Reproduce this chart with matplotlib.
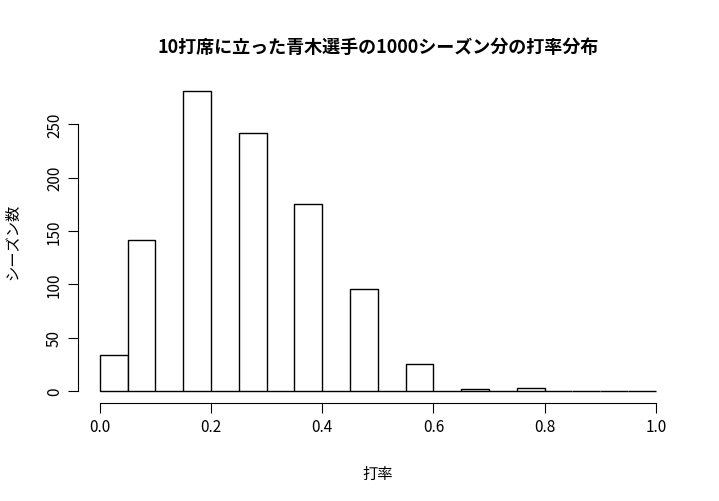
import matplotlib.pyplot as plt

plt.rcParams['font.family'] = ['Noto Sans CJK JP', 'DejaVu Sans']

# 0.05 bins from 0 to 1
bin_left = [i * 0.05 for i in range(20)]
counts = [34, 142, 0, 281, 0, 242, 0, 175, 0, 96,
          0, 25, 0, 2, 0, 3, 0, 0, 0, 0]
xticks = [0.0, 0.2, 0.4, 0.6, 0.8, 1.0]
yticks = [0, 50, 100, 150, 200, 250]

fig = plt.figure(figsize=(7.19, 5.02), dpi=100)
ax = fig.add_axes([0.108, 0.195, 0.835, 0.645])

ax.bar(bin_left, counts, width=0.05, align='edge',
       facecolor='white', edgecolor='black', linewidth=1)

ax.set_xlim(-0.04, 1.04)
ax.set_ylim(-11.24, 292.24)
ax.set_xticks(xticks)
ax.set_xticklabels([f"{v:.1f}" for v in xticks], fontsize=11)
ax.set_yticks(yticks)
ax.set_yticklabels([str(v) for v in yticks], fontsize=11, rotation=90, va='center')

for s in ['top', 'right']:
    ax.spines[s].set_visible(False)
ax.spines['left'].set_bounds(0, 250)
ax.spines['bottom'].set_bounds(0, 1)
ax.tick_params(length=7)

ax.set_title("10打席に立った青木選手の1000シーズン分の打率分布",
             fontsize=13, fontweight='bold', pad=20)
ax.set_xlabel("打率", fontsize=11, labelpad=22)
ax.set_ylabel("シーズン数", fontsize=11, labelpad=18)

fig.savefig("out.png", dpi=100)
